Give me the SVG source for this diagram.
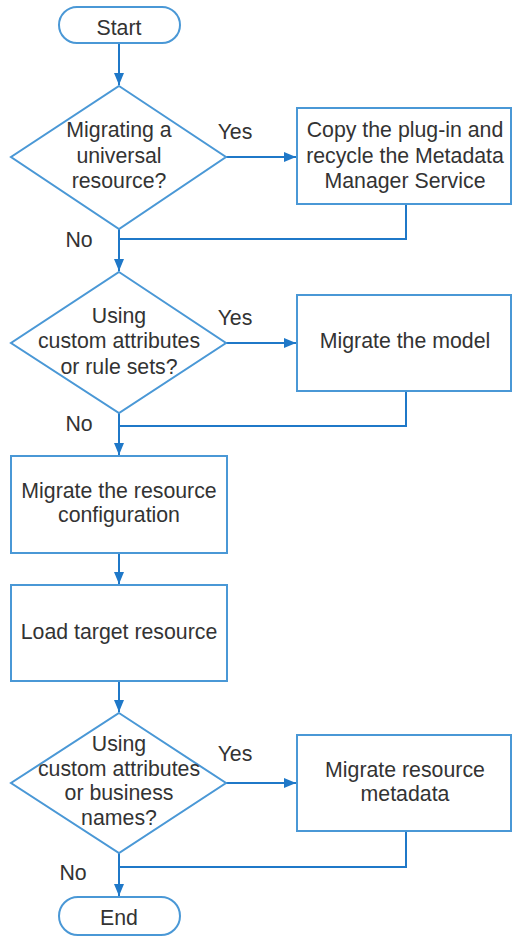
<svg xmlns="http://www.w3.org/2000/svg" width="513" height="939" viewBox="0 0 513 939">
<style>
.shape{fill:#fff;stroke:#4a98d6;stroke-width:2}
.conn{fill:none;stroke:#1f78c8;stroke-width:2}
text{font-family:"Liberation Sans",Arial,sans-serif;font-size:21.3px;fill:#333;text-anchor:middle}
.lbl{fill:#333}
</style>
<defs>
<marker id="arr" viewBox="0 0 12 10" refX="12" refY="5" markerWidth="12" markerHeight="10" markerUnits="userSpaceOnUse" orient="auto">
<path d="M0,0 L12,5 L0,10 Z" fill="#1f78c8"/>
</marker>
</defs>
<g id="connectors">
<path class="conn" d="M119,43 V85" marker-end="url(#arr)"/>
<path class="conn" d="M226,157 H296" marker-end="url(#arr)"/>
<path class="conn" d="M119,229 V271" marker-end="url(#arr)"/>
<path class="conn" d="M406,204 V239 H119"/>
<path class="conn" d="M226,343 H296" marker-end="url(#arr)"/>
<path class="conn" d="M119,413 V455" marker-end="url(#arr)"/>
<path class="conn" d="M406,391 V426 H119"/>
<path class="conn" d="M119,553 V584" marker-end="url(#arr)"/>
<path class="conn" d="M119,681 V712" marker-end="url(#arr)"/>
<path class="conn" d="M226,783 H296" marker-end="url(#arr)"/>
<path class="conn" d="M119,853 V896" marker-end="url(#arr)"/>
<path class="conn" d="M406,831 V867 H119"/>
<text x="235" y="139" class="lbl">Yes</text>
<text x="79" y="247" class="lbl">No</text>
<text x="235" y="325" class="lbl">Yes</text>
<text x="79" y="431" class="lbl">No</text>
<text x="235" y="761" class="lbl">Yes</text>
<text x="73" y="880" class="lbl">No</text>
</g>
<g id="start">
<rect class="shape" x="59" y="7" width="121" height="36" rx="18"/>
<text x="119" y="35">Start</text>
</g>
<g id="d1">
<polygon class="shape" points="119,86 226,157 119,229 11,157"/>
<text x="119" y="137">Migrating a</text>
<text x="119" y="163">universal</text>
<text x="119" y="188">resource?</text>
</g>
<g id="r1">
<rect class="shape" x="297" y="108" width="214" height="96"/>
<text x="405" y="137">Copy the plug-in and</text>
<text x="405" y="163">recycle the Metadata</text>
<text x="405" y="188">Manager Service</text>
</g>
<g id="d2">
<polygon class="shape" points="119,272 226,343 119,413 11,343"/>
<text x="119" y="323">Using</text>
<text x="119" y="348">custom attributes</text>
<text x="119" y="374">or rule sets?</text>
</g>
<g id="r2">
<rect class="shape" x="297" y="295" width="214" height="96"/>
<text x="405" y="348">Migrate the model</text>
</g>
<g id="r3">
<rect class="shape" x="11" y="456" width="216" height="97"/>
<text x="119" y="498">Migrate the resource</text>
<text x="119" y="522">configuration</text>
</g>
<g id="r4">
<rect class="shape" x="11" y="585" width="216" height="96"/>
<text x="119" y="639">Load target resource</text>
</g>
<g id="d3">
<polygon class="shape" points="119,713 226,783 119,853 11,783"/>
<text x="119" y="751">Using</text>
<text x="119" y="776">custom attributes</text>
<text x="119" y="800">or business</text>
<text x="119" y="825">names?</text>
</g>
<g id="r5">
<rect class="shape" x="297" y="735" width="214" height="96"/>
<text x="405" y="777">Migrate resource</text>
<text x="405" y="801">metadata</text>
</g>
<g id="end">
<rect class="shape" x="59" y="897" width="121" height="38" rx="19"/>
<text x="119" y="925">End</text>
</g>
</svg>
